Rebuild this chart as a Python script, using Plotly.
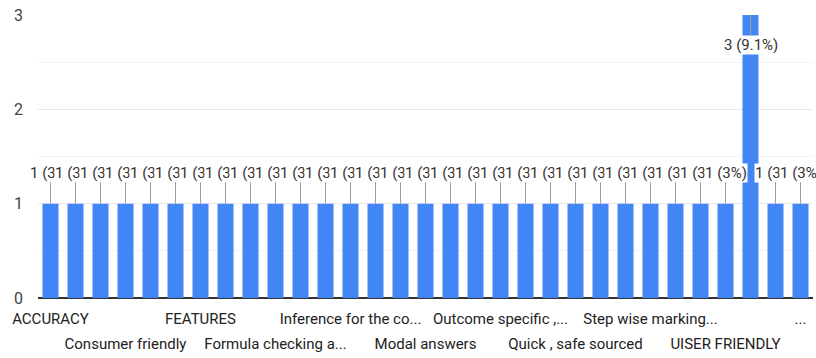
import plotly.graph_objects as go

# Category labels (only the ones that Google Forms displayed are known; others were hidden)
categories = [
    "ACCURACY", "", "", "Consumer friendly", "", "", "FEATURES", "", "",
    "Formula checking a...", "", "", "Inference for the co...", "", "",
    "Modal answers", "", "", "Outcome specific ,...", "", "",
    "Quick , safe sourced", "", "", "Step wise marking...", "", "",
    "UISER FRIENDLY", "", "", "...",
]
counts = [1, 1, 1, 1, 1, 1, 1, 1, 1, 1, 1, 1, 1, 1, 1, 1, 1, 1, 1, 1, 1, 1, 1, 1, 1, 1, 1, 1, 3, 1, 1]
y_ticks = [0, 1, 2, 3]

total = sum(counts)
FONT = "Roboto, Arial, sans-serif"
BLUE = "#4285F4"

xs = list(range(len(categories)))

def fmt(c):
    p = round(c / total * 100, 1)
    return f"{c} ({p:g}%)"

fig = go.Figure()
fig.add_trace(go.Bar(x=xs, y=counts, marker_color=BLUE, marker_line_width=0,
                     hovertext=categories))
# invisible trace to carry the second row of category labels
fig.add_trace(go.Scatter(x=xs, y=counts, mode="none", xaxis="x2", hoverinfo="skip"))

annotations = []
ymax = max(counts)
for i, c in enumerate(counts):
    top = c == ymax
    annotations.append(dict(
        x=i, y=c, xref="x", yref="y", text=fmt(c),
        showarrow=True, arrowhead=0, arrowwidth=1, arrowcolor="#9e9e9e",
        ax=0, ay=30 if top else -31, standoff=0,
        bgcolor="white", borderpad=0,
        font=dict(family=FONT, size=15, color="#333333"),
    ))

tick_idx = [i for i, s in enumerate(categories) if s]
row1 = [i for k, i in enumerate(tick_idx) if k % 2 == 0]
row2 = [i for k, i in enumerate(tick_idx) if k % 2 == 1]

fig.update_layout(
    width=816, height=358,
    margin=dict(l=38, r=3, t=15, b=60, autoexpand=False),
    plot_bgcolor="white", paper_bgcolor="white",
    showlegend=False, bargap=0.36,
    annotations=annotations,
    font=dict(family=FONT, size=15, color="#222222"),
    xaxis=dict(
        range=[-0.5, len(categories) - 0.5],
        tickmode="array", tickvals=row1, ticktext=[categories[i] for i in row1],
        showgrid=False, zeroline=False, showline=False, ticks="",
        tickfont=dict(family=FONT, size=15, color="#222222"),
        tickangle=0, ticklabelstandoff=10, automargin=False,
    ),
    xaxis2=dict(
        overlaying="x", matches="x", anchor="y", side="bottom",
        range=[-0.5, len(categories) - 0.5],
        tickmode="array", tickvals=row2, ticktext=[categories[i] for i in row2],
        showgrid=False, zeroline=False, showline=False, ticks="",
        tickfont=dict(family=FONT, size=15, color="#222222"),
        tickangle=0, ticklabelstandoff=35, automargin=False,
    ),
)
fig.update_yaxes(
    range=[0, 3], tickmode="array", tickvals=y_ticks,
    showgrid=True, gridcolor="#e8e8e8", gridwidth=1,
    minor=dict(dtick=0.5, showgrid=True, gridcolor="#f3f3f3", gridwidth=1),
    zeroline=True, zerolinecolor="#333333", zerolinewidth=2,
    showline=False, ticks="", ticklabelstandoff=14,
    ticklabeloverflow="allow", automargin=False,
    tickfont=dict(family=FONT, size=16, color="#444444"),
)

fig.write_html("out.html", config={"displayModeBar": False},
               post_script="document.body.style.margin='0';")
